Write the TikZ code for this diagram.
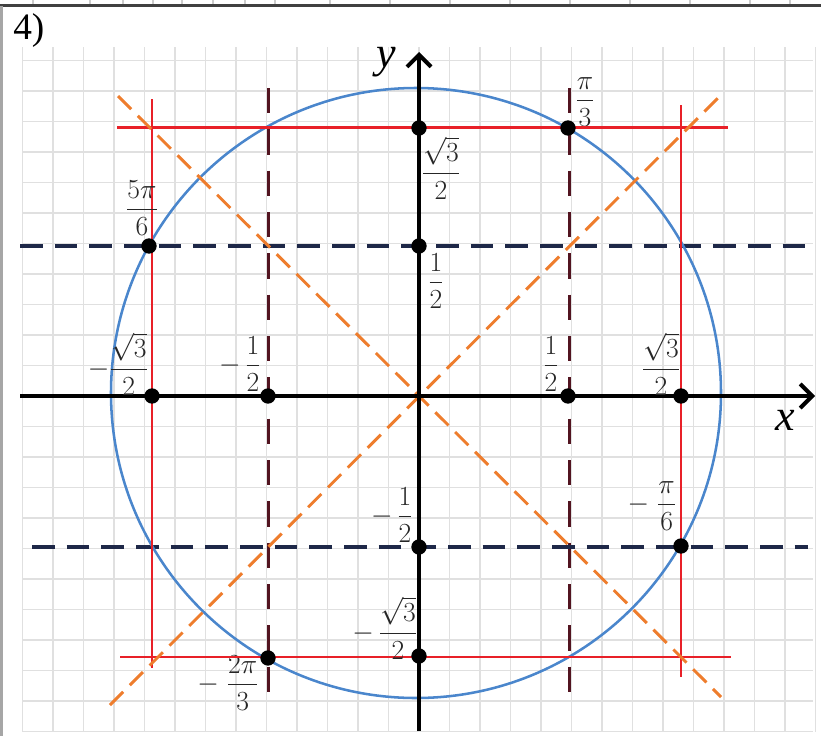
\documentclass[tikz,border=0pt]{standalone}
\usepackage{amsmath}
\usepackage{fontspec}
\setmainfont{Liberation Serif}
\usetikzlibrary{arrows.meta}
\definecolor{gridc}{RGB}{224,224,224}
\definecolor{circc}{RGB}{74,134,204}
\definecolor{redc}{RGB}{232,32,40}
\definecolor{maroonc}{RGB}{82,20,32}
\definecolor{navyc}{RGB}{30,40,72}
\definecolor{orangec}{RGB}{238,125,45}
\tikzset{
  gridline/.style={gridc, line width=1.4},
  axisline/.style={black, line width=3, -{Straight Barb[length=9,width=18,line width=3]}},
  redline/.style={redc, line width=1.9},
  maroondash/.style={maroonc, line width=2.3, dash pattern=on 19pt off 12pt},
  navydash/.style={navyc, line width=2.4, dash pattern=on 17pt off 9pt},
  orangedash/.style={orangec, line width=2.2, dash pattern=on 14pt off 7pt},
  dot/.style={circle, fill=black, inner sep=0pt, minimum size=11.5pt},
  lbl/.style={inner sep=0pt, font=\fontsize{20}{24}\selectfont, text=black!85},
  axlbl/.style={inner sep=0pt, font=\fontsize{33}{36}\selectfont\itshape},
}
\begin{document}
\begin{tikzpicture}[x=0.75pt, y=-0.75pt]
\useasboundingbox (0,0) rectangle (821,736);
% frame remnants
\foreach \xx in {33,90,123,153,182,213,245,275,330,390,450,510,570,630,690,750,790}
  \draw[gray!40, line width=1] (\xx,0) -- (\xx,4);
\draw[black!75, line width=2.5] (0,5.5) -- (821,5.5);
\draw[gray!70, line width=1.5] (1.5,5.5) -- (1.5,736);
% grid
\foreach \k in {-13,...,13}
  \draw[gridline] ({419+30.5*\k},47) -- ({419+30.5*\k},732);
\foreach \k in {-11,...,11}
  \draw[gridline] (22,{396+30.5*\k}) -- (813,{396+30.5*\k});
% label 4)
\node[anchor=base west, inner sep=0pt, font=\fontsize{28}{30}\selectfont] (num) at (13,39) {4)};
% dashed helper lines
\draw[maroondash] (268.5,88) -- (268.5,705);
\draw[maroondash] (569.5,88) -- (569.5,705);
\draw[navydash] (20,246) -- (808,246);
\draw[navydash] (32,547) -- (808,547);
% labels drawn below lines
\node[lbl] (l2) at (585,102) {$\dfrac{\pi}{3}$};
\node[lbl] (l11) at (228,683) {$-\;\dfrac{2\pi}{3}$};
% circle
\draw[circc, line width=1.9] (416,393) circle (305);
% red lines
\draw[redline] (152,99) -- (152,668);
\draw[redline] (681,105) -- (681,677);
\draw[redline] (117,127.5) -- (728,127.5);
\draw[redline] (120,657) -- (731,657);
% orange diagonals
\draw[orangedash] (118,96) -- (721,697);
\draw[orangedash] (110,705) -- (720,96);
% axes
\draw[axisline] (20,396) -- (815,396);
\draw[axisline] (419,731) -- (419,52);
\node[axlbl] (ylab) at (386,62) {y};
\node[axlbl] (xlab) at (785,420) {x};
% points
\node[dot] (p1) at (419,128) {};
\node[dot] (p2) at (568,128) {};
\node[dot] (p3) at (149,246) {};
\node[dot] (p4) at (419,246) {};
\node[dot] (p5) at (152,396) {};
\node[dot] (p6) at (268,396) {};
\node[dot] (p7) at (568,396) {};
\node[dot] (p8) at (681,396) {};
\node[dot] (p9) at (419,547) {};
\node[dot] (p10) at (681,546) {};
\node[dot] (p11) at (419,656) {};
\node[dot] (p12) at (268,658) {};
% labels
\node[lbl] (l1) at (441,168) {$\dfrac{\sqrt{3}}{2}$};
\node[lbl] (l3) at (142,208) {$\dfrac{5\pi}{6}$};
\node[lbl] (l4) at (436,281) {$\dfrac{1}{2}$};
\node[lbl] (l5) at (118,364) {$-\dfrac{\sqrt{3}}{2}$};
\node[lbl] (l6) at (240,364) {$-\,\dfrac{1}{2}$};
\node[lbl] (l7) at (551,364) {$\dfrac{1}{2}$};
\node[lbl] (l8) at (661,364) {$\dfrac{\sqrt{3}}{2}$};
\node[lbl] (l9) at (392,515) {$-\,\dfrac{1}{2}$};
\node[lbl] (l10) at (385,628) {$-\,\dfrac{\sqrt{3}}{2}$};
\node[lbl] (l12) at (652,506) {$-\;\dfrac{\pi}{6}$};
\end{tikzpicture}
\end{document}
